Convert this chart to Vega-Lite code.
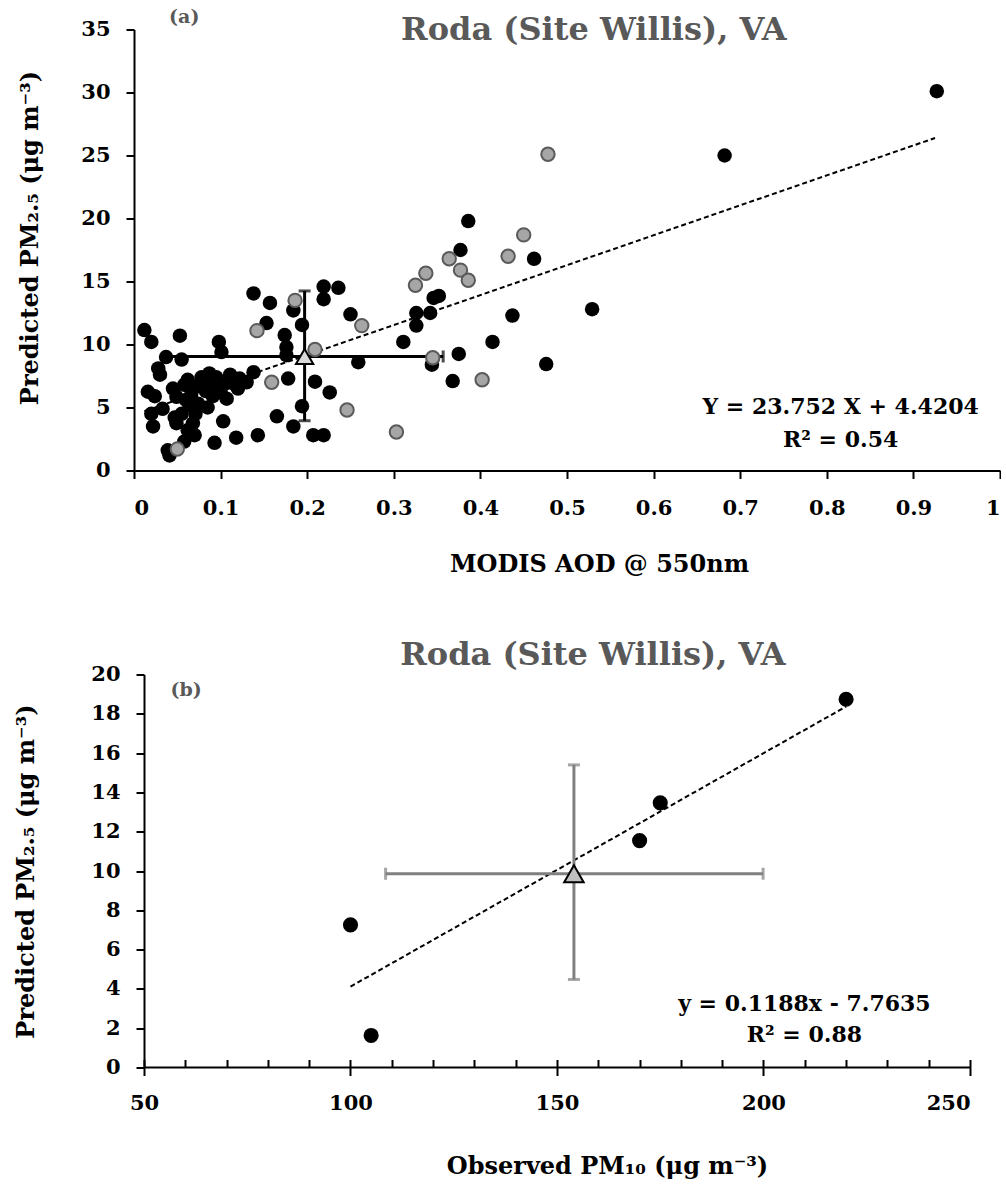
{
  "$schema": "https://vega.github.io/schema/vega-lite/v6.json",
  "padding": {"left": 14, "top": 7.5, "right": 0, "bottom": 5},
  "background": "white",
  "config": {
    "view": {"stroke": null},
    "font": "DejaVu Serif",
    "axis": {
      "grid": false,
      "domainColor": "black",
      "domainWidth": 2,
      "tickColor": "black",
      "tickWidth": 2,
      "tickSize": 8,
      "labelOverlap": false,
      "labelFont": "DejaVu Serif",
      "labelFontWeight": "bold",
      "labelFontSize": 21,
      "labelColor": "black",
      "titleFont": "DejaVu Serif",
      "titleFontWeight": "bold",
      "titleFontSize": 24,
      "titleColor": "black"
    }
  },
  "datasets": {
    "topBlack": [
      {"aod": 0.012, "pm": 11.15}, {"aod": 0.020, "pm": 10.2}, {"aod": 0.053, "pm": 10.7}, {"aod": 0.098, "pm": 10.2},
      {"aod": 0.101, "pm": 9.4}, {"aod": 0.037, "pm": 9.0}, {"aod": 0.055, "pm": 8.8}, {"aod": 0.028, "pm": 8.1},
      {"aod": 0.030, "pm": 7.6}, {"aod": 0.062, "pm": 7.2}, {"aod": 0.078, "pm": 7.4}, {"aod": 0.087, "pm": 7.7},
      {"aod": 0.111, "pm": 7.6}, {"aod": 0.122, "pm": 7.3}, {"aod": 0.138, "pm": 7.8}, {"aod": 0.097, "pm": 6.65},
      {"aod": 0.115, "pm": 6.9}, {"aod": 0.016, "pm": 6.25}, {"aod": 0.024, "pm": 5.9}, {"aod": 0.049, "pm": 5.85},
      {"aod": 0.066, "pm": 6.0}, {"aod": 0.074, "pm": 5.3}, {"aod": 0.107, "pm": 5.7}, {"aod": 0.020, "pm": 4.5},
      {"aod": 0.033, "pm": 4.9}, {"aod": 0.049, "pm": 3.75}, {"aod": 0.022, "pm": 3.5}, {"aod": 0.068, "pm": 3.75},
      {"aod": 0.070, "pm": 2.8}, {"aod": 0.103, "pm": 3.9}, {"aod": 0.093, "pm": 2.2}, {"aod": 0.118, "pm": 2.6},
      {"aod": 0.143, "pm": 2.8}, {"aod": 0.058, "pm": 2.3}, {"aod": 0.039, "pm": 1.6}, {"aod": 0.041, "pm": 1.2},
      {"aod": 0.045, "pm": 6.5}, {"aod": 0.058, "pm": 6.8}, {"aod": 0.064, "pm": 5.2}, {"aod": 0.071, "pm": 4.5},
      {"aod": 0.083, "pm": 6.3}, {"aod": 0.091, "pm": 5.9}, {"aod": 0.120, "pm": 6.5}, {"aod": 0.130, "pm": 7.0},
      {"aod": 0.090, "pm": 7.0}, {"aod": 0.069, "pm": 6.6}, {"aod": 0.055, "pm": 4.5}, {"aod": 0.062, "pm": 3.2},
      {"aod": 0.047, "pm": 4.2}, {"aod": 0.100, "pm": 6.2}, {"aod": 0.085, "pm": 5.0}, {"aod": 0.060, "pm": 5.6},
      {"aod": 0.075, "pm": 6.8}, {"aod": 0.095, "pm": 7.4}, {"aod": 0.105, "pm": 6.9},
      {"aod": 0.165, "pm": 4.3}, {"aod": 0.178, "pm": 7.3}, {"aod": 0.174, "pm": 10.75}, {"aod": 0.176, "pm": 9.8},
      {"aod": 0.176, "pm": 9.15}, {"aod": 0.184, "pm": 3.5}, {"aod": 0.194, "pm": 5.1}, {"aod": 0.194, "pm": 11.55},
      {"aod": 0.209, "pm": 7.05}, {"aod": 0.207, "pm": 2.8}, {"aod": 0.219, "pm": 2.8}, {"aod": 0.226, "pm": 6.2},
      {"aod": 0.138, "pm": 14.05}, {"aod": 0.157, "pm": 13.3}, {"aod": 0.184, "pm": 12.7}, {"aod": 0.153, "pm": 11.7},
      {"aod": 0.219, "pm": 14.6}, {"aod": 0.236, "pm": 14.5}, {"aod": 0.219, "pm": 13.6}, {"aod": 0.250, "pm": 12.4},
      {"aod": 0.259, "pm": 8.6}, {"aod": 0.311, "pm": 10.2}, {"aod": 0.326, "pm": 12.5}, {"aod": 0.326, "pm": 11.5},
      {"aod": 0.342, "pm": 12.5}, {"aod": 0.352, "pm": 13.85}, {"aod": 0.346, "pm": 13.7}, {"aod": 0.386, "pm": 19.8},
      {"aod": 0.377, "pm": 17.5}, {"aod": 0.344, "pm": 8.4}, {"aod": 0.375, "pm": 9.25}, {"aod": 0.368, "pm": 7.1},
      {"aod": 0.414, "pm": 10.2}, {"aod": 0.437, "pm": 12.3}, {"aod": 0.462, "pm": 16.8}, {"aod": 0.476, "pm": 8.45},
      {"aod": 0.529, "pm": 12.8}, {"aod": 0.682, "pm": 25.0}, {"aod": 0.927, "pm": 30.1}
    ],
    "topGray": [
      {"aod": 0.050, "pm": 1.7}, {"aod": 0.142, "pm": 11.1}, {"aod": 0.159, "pm": 7.0}, {"aod": 0.186, "pm": 13.5},
      {"aod": 0.209, "pm": 9.6}, {"aod": 0.246, "pm": 4.8}, {"aod": 0.263, "pm": 11.5}, {"aod": 0.303, "pm": 3.05},
      {"aod": 0.325, "pm": 14.7}, {"aod": 0.337, "pm": 15.65}, {"aod": 0.345, "pm": 8.95}, {"aod": 0.364, "pm": 16.8},
      {"aod": 0.377, "pm": 15.9}, {"aod": 0.386, "pm": 15.1}, {"aod": 0.402, "pm": 7.2}, {"aod": 0.432, "pm": 17.0},
      {"aod": 0.450, "pm": 18.7}, {"aod": 0.478, "pm": 25.1}
    ],
    "topTrend": [{"aod": 0.012, "pm": 4.705}, {"aod": 0.925, "pm": 26.39}],
    "topMean": [{"aod": 0.197, "lo": 0.037, "hi": 0.357, "pm": 9.05, "pmlo": 3.95, "pmhi": 14.25}],
    "botPts": [
      {"obs": 100, "pred": 7.26}, {"obs": 105, "pred": 1.63}, {"obs": 170, "pred": 11.55},
      {"obs": 175, "pred": 13.47}, {"obs": 220, "pred": 18.74}
    ],
    "botTrend": [{"obs": 100, "pred": 4.117}, {"obs": 220, "pred": 18.37}],
    "botMean": [{"obs": 154.1, "lo": 108.5, "hi": 199.9, "pred": 9.86, "plo": 4.48, "phi": 15.4}]
  },
  "spacing": 62,
  "vconcat": [
    {
      "width": 866,
      "height": 441,
      "layer": [
        {
          "data": {"name": "topTrend"},
          "mark": {"type": "line", "color": "black", "strokeWidth": 2, "strokeDash": [5, 3]},
          "encoding": {
            "x": {"field": "aod", "type": "quantitative", "title": "MODIS AOD @ 550nm",
                  "scale": {"domain": [0, 1], "nice": false},
                  "axis": {"values": [0, 0.1, 0.2, 0.3, 0.4, 0.5, 0.6, 0.7, 0.8, 0.9, 1], "format": "~g", "labelPadding": 19, "titlePadding": 34, "titleX": 465}},
            "y": {"field": "pm", "type": "quantitative", "title": "Predicted PM₂.₅ (μg m⁻³)",
                  "scale": {"domain": [0, 35], "nice": false},
                  "axis": {"values": [0, 5, 10, 15, 20, 25, 30, 35], "labelPadding": 16, "titlePadding": 38, "titleY": 208}}
          }
        },
        {
          "data": {"name": "topMean"},
          "mark": {"type": "errorbar", "color": "black", "ticks": {"size": 12, "thickness": 3}, "rule": {"strokeWidth": 3}},
          "encoding": {
            "x": {"field": "lo", "type": "quantitative", "title": "MODIS AOD @ 550nm"},
            "x2": {"field": "hi"},
            "y": {"field": "pm", "type": "quantitative", "title": "Predicted PM₂.₅ (μg m⁻³)"}
          }
        },
        {
          "data": {"name": "topMean"},
          "mark": {"type": "errorbar", "color": "black", "ticks": {"size": 12, "thickness": 3}, "rule": {"strokeWidth": 3}},
          "encoding": {
            "y": {"field": "pmlo", "type": "quantitative", "title": "Predicted PM₂.₅ (μg m⁻³)"},
            "y2": {"field": "pmhi"},
            "x": {"field": "aod", "type": "quantitative", "title": "MODIS AOD @ 550nm"}
          }
        },
        {
          "data": {"name": "topBlack"},
          "mark": {"type": "circle", "color": "black", "opacity": 1, "size": 210},
          "encoding": {
            "x": {"field": "aod", "type": "quantitative", "title": "MODIS AOD @ 550nm"},
            "y": {"field": "pm", "type": "quantitative", "title": "Predicted PM₂.₅ (μg m⁻³)"}
          }
        },
        {
          "data": {"name": "topGray"},
          "mark": {"type": "point", "shape": "circle", "filled": false, "fill": "#a6a6a6", "fillOpacity": 1, "stroke": "#5a5a5a", "strokeWidth": 2, "opacity": 1, "size": 180},
          "encoding": {
            "x": {"field": "aod", "type": "quantitative", "title": "MODIS AOD @ 550nm"},
            "y": {"field": "pm", "type": "quantitative", "title": "Predicted PM₂.₅ (μg m⁻³)"}
          }
        },
        {
          "data": {"name": "topMean"},
          "mark": {"type": "point", "shape": "triangle-up", "filled": false, "fill": "#d9d9d9", "fillOpacity": 1, "stroke": "black", "strokeWidth": 2, "opacity": 1, "size": 300},
          "encoding": {
            "x": {"field": "aod", "type": "quantitative", "title": "MODIS AOD @ 550nm"},
            "y": {"field": "pm", "type": "quantitative", "title": "Predicted PM₂.₅ (μg m⁻³)"}
          }
        },
        {
          "data": {"values": [{"label": "Roda (Site Willis), VA"}]},
          "mark": {"type": "text", "font": "DejaVu Serif", "fontWeight": "bold", "fontSize": 32, "color": "#595959", "align": "center", "baseline": "middle"},
          "encoding": {"x": {"datum": 0.531}, "y": {"datum": 34.96}, "text": {"field": "label"}}
        },
        {
          "data": {"values": [{"label": "(a)"}]},
          "mark": {"type": "text", "font": "DejaVu Serif", "fontWeight": "bold", "fontSize": 19, "color": "#595959", "align": "center", "baseline": "middle"},
          "encoding": {"x": {"datum": 0.058}, "y": {"datum": 36.0}, "text": {"field": "label"}}
        },
        {
          "data": {"values": [{"label": "Y = 23.752 X + 4.4204", "row": 5.04}, {"label": "R² = 0.54", "row": 2.42}]},
          "mark": {"type": "text", "font": "DejaVu Serif", "fontWeight": "bold", "fontSize": 22, "color": "black", "align": "center", "baseline": "middle"},
          "encoding": {"x": {"datum": 0.816}, "y": {"field": "row", "type": "quantitative", "title": "Predicted PM₂.₅ (μg m⁻³)"}, "text": {"field": "label"}}
        }
      ]
    },
    {
      "width": 836,
      "height": 393,
      "resolve": {"axis": {"x": "independent"}},
      "layer": [
        {
          "data": {"name": "botTrend"},
          "mark": {"type": "line", "color": "black", "strokeWidth": 2, "strokeDash": [5, 3]},
          "encoding": {
            "x": {"field": "obs", "type": "quantitative", "title": "Observed PM₁₀ (μg m⁻³)",
                  "scale": {"domain": [47.58, 250], "nice": false},
                  "axis": {"values": [50, 100, 150, 200, 250], "domain": false, "labelPadding": 17, "titlePadding": 41, "titleX": 473}},
            "y": {"field": "pred", "type": "quantitative", "title": "Predicted PM₂.₅ (μg m⁻³)",
                  "scale": {"domain": [0, 20], "nice": false},
                  "axis": {"values": [0, 2, 4, 6, 8, 10, 12, 14, 16, 18, 20], "offset": -10, "labelPadding": 16, "titlePadding": 52}}
          }
        },
        {
          "data": {"values": [{"base": 0}]},
          "mark": {"type": "rule", "color": "black", "strokeWidth": 2},
          "encoding": {
            "x": {"datum": 50, "axis": null},
            "x2": {"datum": 250},
            "y": {"field": "base", "type": "quantitative", "title": "Predicted PM₂.₅ (μg m⁻³)",
                  "axis": {"values": [0, 2, 4, 6, 8, 10, 12, 14, 16, 18, 20], "offset": -10, "labelPadding": 16, "titlePadding": 52}}
          }
        },
        {
          "data": {"name": "botMean"},
          "mark": {"type": "errorbar", "color": "#808080", "ticks": {"size": 12, "thickness": 3}, "rule": {"strokeWidth": 3}},
          "encoding": {
            "x": {"field": "lo", "type": "quantitative", "axis": null},
            "x2": {"field": "hi"},
            "y": {"field": "pred", "type": "quantitative", "title": "Predicted PM₂.₅ (μg m⁻³)",
                  "axis": {"values": [0, 2, 4, 6, 8, 10, 12, 14, 16, 18, 20], "offset": -10, "labelPadding": 16, "titlePadding": 52}}
          }
        },
        {
          "data": {"name": "botMean"},
          "mark": {"type": "errorbar", "color": "#808080", "ticks": {"size": 12, "thickness": 3}, "rule": {"strokeWidth": 3}},
          "encoding": {
            "y": {"field": "plo", "type": "quantitative", "title": "Predicted PM₂.₅ (μg m⁻³)",
                  "axis": {"values": [0, 2, 4, 6, 8, 10, 12, 14, 16, 18, 20], "offset": -10, "labelPadding": 16, "titlePadding": 52}},
            "y2": {"field": "phi"},
            "x": {"field": "obs", "type": "quantitative", "axis": null}
          }
        },
        {
          "data": {"name": "botPts"},
          "mark": {"type": "circle", "color": "black", "opacity": 1, "size": 230},
          "encoding": {
            "x": {"field": "obs", "type": "quantitative",
                  "axis": {"orient": "top", "offset": -393, "values": [50, 60, 70, 80, 90, 100, 110, 120, 130, 140, 150, 160, 170, 180, 190, 200, 210, 220, 230, 240, 250], "labels": false, "domain": false, "title": null, "tickSize": 8}},
            "y": {"field": "pred", "type": "quantitative", "title": "Predicted PM₂.₅ (μg m⁻³)",
                  "axis": {"values": [0, 2, 4, 6, 8, 10, 12, 14, 16, 18, 20], "offset": -10, "labelPadding": 16, "titlePadding": 52}}
          }
        },
        {
          "data": {"name": "botMean"},
          "mark": {"type": "point", "shape": "triangle-up", "filled": false, "fill": "#bfbfbf", "fillOpacity": 1, "stroke": "black", "strokeWidth": 2, "opacity": 1, "size": 380},
          "encoding": {
            "x": {"field": "obs", "type": "quantitative", "axis": null},
            "y": {"field": "pred", "type": "quantitative", "title": "Predicted PM₂.₅ (μg m⁻³)",
                  "axis": {"values": [0, 2, 4, 6, 8, 10, 12, 14, 16, 18, 20], "offset": -10, "labelPadding": 16, "titlePadding": 52}}
          }
        },
        {
          "data": {"values": [{"label": "Roda (Site Willis), VA"}]},
          "mark": {"type": "text", "font": "DejaVu Serif", "fontWeight": "bold", "fontSize": 32, "color": "#595959", "align": "center", "baseline": "middle"},
          "encoding": {"x": {"datum": 158.7, "axis": null}, "y": {"datum": 20.97, "axis": {"values": [0, 2, 4, 6, 8, 10, 12, 14, 16, 18, 20], "offset": -10, "labelPadding": 16, "titlePadding": 52}}, "text": {"field": "label"}}
        },
        {
          "data": {"values": [{"label": "(b)"}]},
          "mark": {"type": "text", "font": "DejaVu Serif", "fontWeight": "bold", "fontSize": 19, "color": "#595959", "align": "center", "baseline": "middle"},
          "encoding": {"x": {"datum": 60.2, "axis": null}, "y": {"datum": 19.19, "axis": {"values": [0, 2, 4, 6, 8, 10, 12, 14, 16, 18, 20], "offset": -10, "labelPadding": 16, "titlePadding": 52}}, "text": {"field": "label"}}
        },
        {
          "data": {"values": [{"label": "y = 0.1188x - 7.7635", "row": 3.21}, {"label": "R² = 0.88", "row": 1.63}]},
          "mark": {"type": "text", "font": "DejaVu Serif", "fontWeight": "bold", "fontSize": 22, "color": "black", "align": "center", "baseline": "middle"},
          "encoding": {"x": {"datum": 209.9, "axis": null}, "y": {"field": "row", "type": "quantitative", "title": "Predicted PM₂.₅ (μg m⁻³)", "axis": {"values": [0, 2, 4, 6, 8, 10, 12, 14, 16, 18, 20], "offset": -10, "labelPadding": 16, "titlePadding": 52}}, "text": {"field": "label"}}
        }
      ]
    }
  ]
}
